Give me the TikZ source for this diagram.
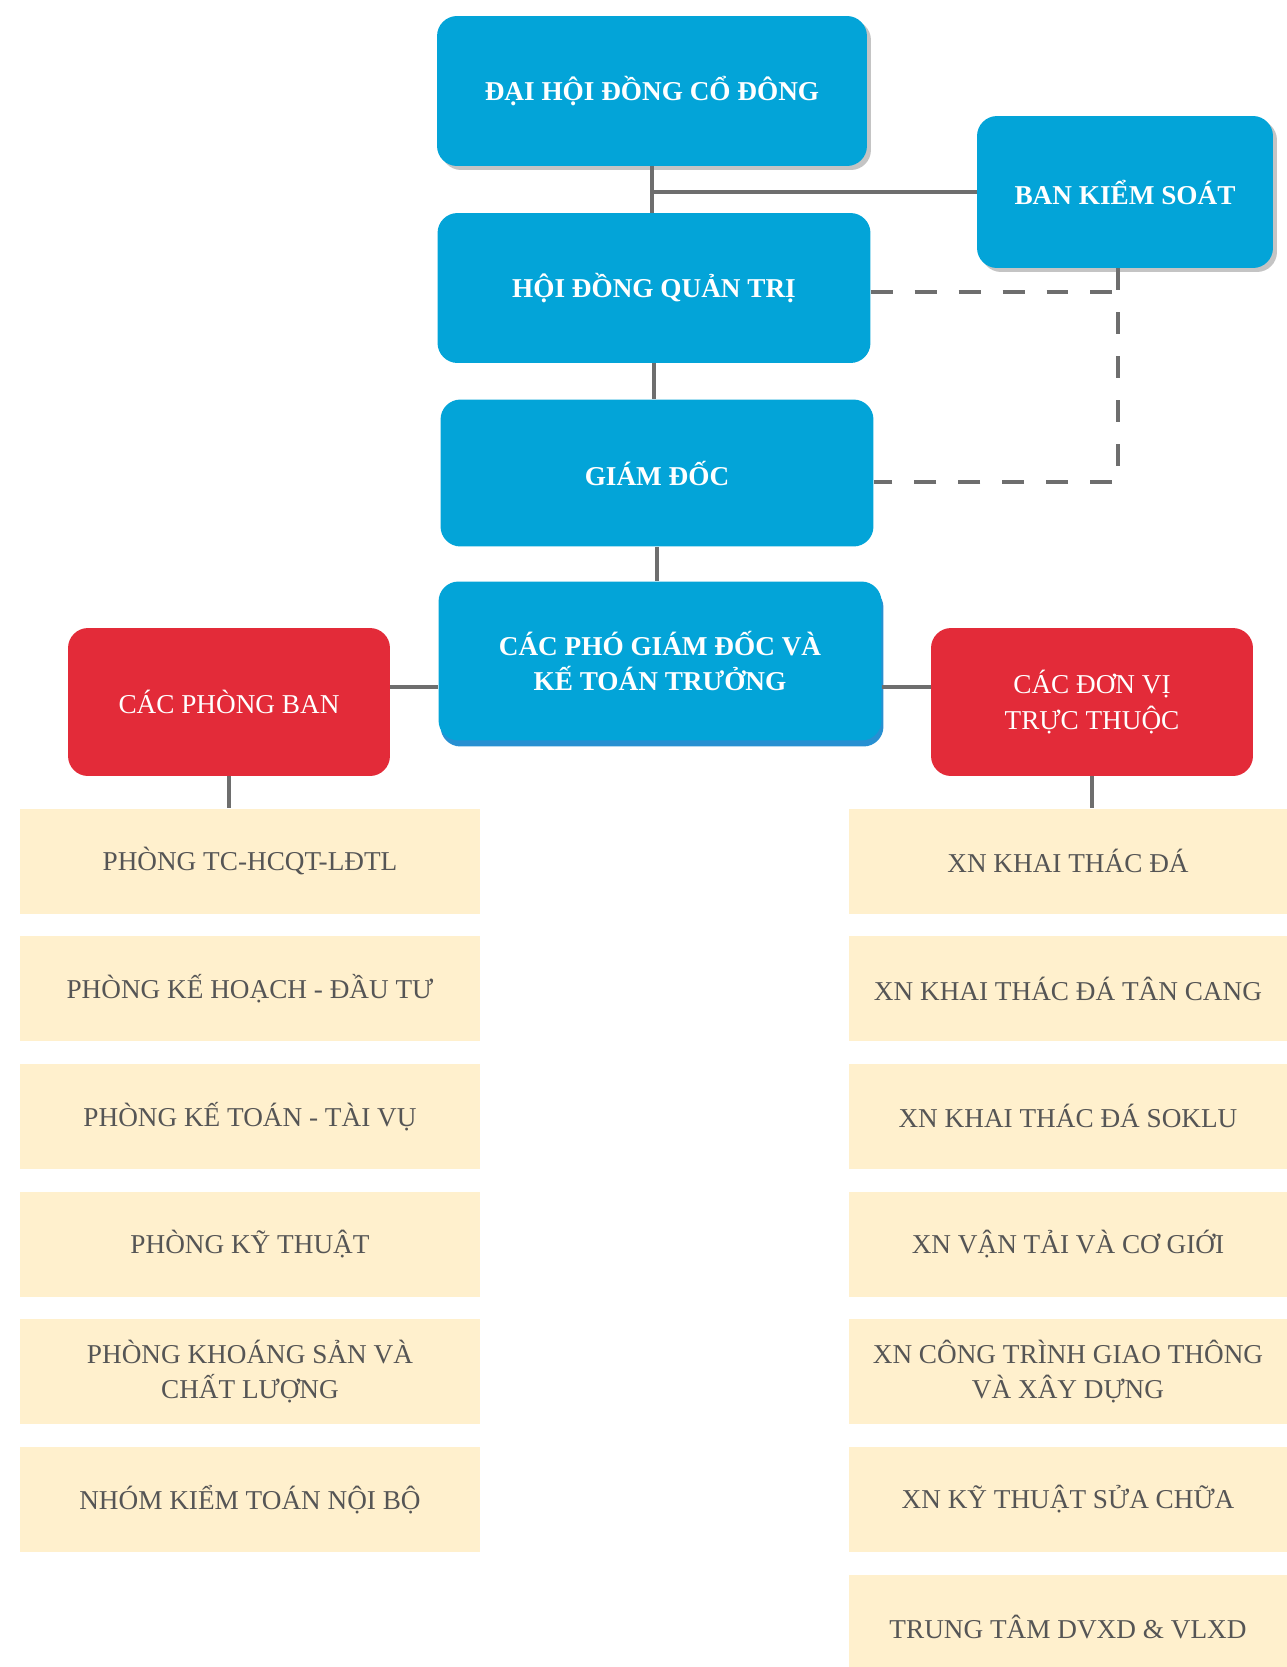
\documentclass[tikz,border=0pt]{standalone}
\usepackage{fontspec}
\setmainfont{Liberation Serif}
\usepackage{tikz}
\usetikzlibrary{positioning,calc,shadows}
\definecolor{boxblue}{HTML}{03A4D8}
\definecolor{boxred}{HTML}{E32B39}
\definecolor{boxtan}{HTML}{FFF0CD}
\definecolor{textgray}{HTML}{555555}
\definecolor{linegray}{HTML}{6E6E6E}
\definecolor{shadowgray}{HTML}{C4C4C4}
\definecolor{shadowblue}{HTML}{2790D2}

\begin{document}
\begin{tikzpicture}[
  x=0.02cm, y=-0.02cm,
  font=\fontsize{15.5}{20}\selectfont,
  headbox/.style={fill=boxblue, rounded corners=0.4cm, text=white, font=\fontsize{15.5}{20}\selectfont\bfseries, align=center, minimum width=8.66cm, minimum height=3cm},
  groupbox/.style={fill=boxred, rounded corners=0.4cm, text=white, align=center, minimum width=6.44cm, minimum height=2.96cm},
  unitbox/.style={fill=boxtan, text=textgray, align=center, minimum height=2.1cm},
  deptbox/.style={unitbox, minimum width=9.2cm},
  branchbox/.style={unitbox, minimum width=8.76cm},
  gshadow/.style={drop shadow={shadow xshift=0.08cm, shadow yshift=-0.08cm, fill=shadowgray, opacity=1}},
  bshadow/.style={drop shadow={shadow xshift=0.04cm, shadow yshift=-0.12cm, fill=shadowblue, opacity=1}},
  link/.style={draw=linegray, line width=2.8pt},
  watch/.style={link, dash pattern=on 12.5pt off 12.5pt}
]
\useasboundingbox (0,0) rectangle (1287,1667);

% lanh dao
\node[headbox, gshadow, minimum width=8.6cm] (dhd) at (652,91) {ĐẠI HỘI ĐỒNG CỔ ĐÔNG};
\node[headbox, gshadow, minimum width=5.92cm, minimum height=3.04cm] (bks) at (1125,192) {BAN KIỂM SOÁT};
\node[headbox] (hdqt) at (654,288) {HỘI ĐỒNG QUẢN TRỊ};
\node[headbox, minimum height=2.94cm] (gd) at (657,473) {GIÁM ĐỐC};
\node[headbox, bshadow, minimum width=8.86cm, minimum height=3.18cm] (pgd) at (660,661) {CÁC PHÓ GIÁM ĐỐC VÀ\\KẾ TOÁN TRƯỞNG};
\node[groupbox] (cpb) at (229,702) {CÁC PHÒNG BAN};
\node[groupbox] (cdv) at (1092,702) {CÁC ĐƠN VỊ\\TRỰC THUỘC};

% cac phong ban
\node[deptbox] (pb1) at (250,861) {PHÒNG TC-HCQT-LĐTL};
\node[deptbox, below=0.44cm of pb1] (pb2) {PHÒNG KẾ HOẠCH - ĐẦU TƯ};
\node[deptbox, below=0.44cm of pb2] (pb3) {PHÒNG KẾ TOÁN - TÀI VỤ};
\node[deptbox, below=0.44cm of pb3] (pb4) {PHÒNG KỸ THUẬT};
\node[deptbox, below=0.44cm of pb4] (pb5) {PHÒNG KHOÁNG SẢN VÀ\\CHẤT LƯỢNG};
\node[deptbox, below=0.44cm of pb5] (pb6) {NHÓM KIỂM TOÁN NỘI BỘ};

% cac don vi truc thuoc
\node[branchbox] (dv1) at (1068,861) {XN KHAI THÁC ĐÁ};
\node[branchbox, below=0.44cm of dv1] (dv2) {XN KHAI THÁC ĐÁ TÂN CANG};
\node[branchbox, below=0.44cm of dv2] (dv3) {XN KHAI THÁC ĐÁ SOKLU};
\node[branchbox, below=0.44cm of dv3] (dv4) {XN VẬN TẢI VÀ CƠ GIỚI};
\node[branchbox, below=0.44cm of dv4] (dv5) {XN CÔNG TRÌNH GIAO THÔNG\\VÀ XÂY DỰNG};
\node[branchbox, below=0.44cm of dv5] (dv6) {XN KỸ THUẬT SỬA CHỮA};
\node[branchbox, below=0.44cm of dv6] (dv7) {TRUNG TÂM DVXD \& VLXD};

% duong noi
\draw[link] (dhd.south) -- (dhd.south |- hdqt.north);
\draw[link] (bks.west) -- (bks.west -| dhd.south);
\draw[link] (hdqt.south) -- (hdqt.south |- gd.north);
\draw[link] (gd.south) -- (gd.south |- pgd.north);
\coordinate (jl) at ($(cpb.east)+(0,-15)$);
\draw[link] (jl) -- (jl -| pgd.west);
\draw[link] (pgd.east |- jl) -- (jl -| cdv.west);
\draw[link] (cpb.south) -- (cpb.south |- pb1.north);
\draw[link] (cdv.south) -- (cdv.south |- dv1.north);

% kiem soat
\coordinate (ks) at ($(bks.south)+(-7,0)$);
\coordinate (kq) at ($(hdqt.east)+(0,4)$);
\coordinate (kg) at ($(gd.east)+(0,9)$);
\draw[watch] (kq) -- (kq -| ks);
\draw[watch] (ks) -- (ks |- kg) -- (kg);
\end{tikzpicture}
\end{document}
